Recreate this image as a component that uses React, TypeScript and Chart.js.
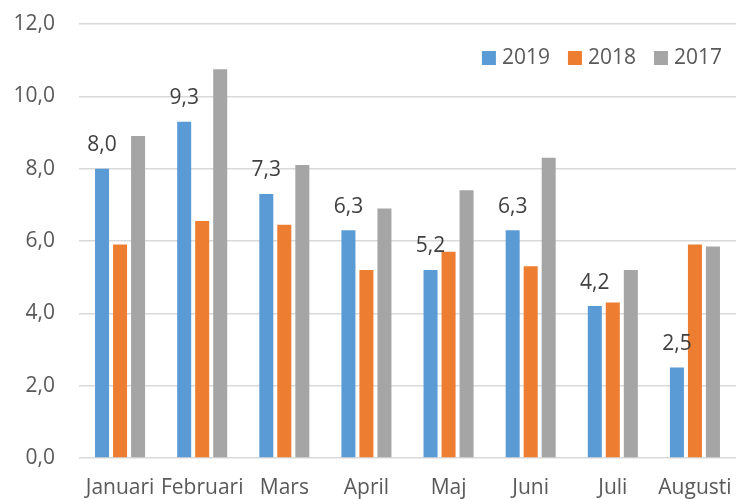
import React, { useEffect, useRef } from "react";
import { Chart, registerables } from "chart.js";

Chart.register(...registerables);

const categories = ["Januari", "Februari", "Mars", "April", "Maj", "Juni", "Juli", "Augusti"];
const series2019 = [8.0, 9.3, 7.3, 6.3, 5.2, 6.3, 4.2, 2.5];
const series2018 = [5.9, 6.55, 6.45, 5.2, 5.7, 5.3, 4.3, 5.9];
const series2017 = [8.9, 10.75, 8.1, 6.9, 7.4, 8.3, 5.2, 5.85];
const yTicks = [0, 2, 4, 6, 8, 10, 12];

const FONT = "'Open Sans', sans-serif";
const fmt = (v: number) => v.toFixed(1).replace(".", ",");

const dataLabelPlugin = {
  id: "dataLabels2019",
  afterDatasetsDraw(chart: any) {
    const ctx = chart.ctx;
    const meta = chart.getDatasetMeta(0);
    const ds = chart.data.datasets[0];
    ctx.save();
    ctx.font = `21px ${FONT}`;
    ctx.fillStyle = "#404040";
    ctx.textAlign = "center";
    ctx.textBaseline = "alphabetic";
    meta.data.forEach((bar: any, i: number) => {
      ctx.fillText(fmt(ds.data[i]), bar.x, bar.y - 17.5);
    });
    ctx.restore();
  },
};

const legendPlugin = {
  id: "customLegend",
  afterDraw(chart: any) {
    const ctx = chart.ctx;
    const area = chart.chartArea;
    const datasets = chart.data.datasets;
    ctx.save();
    ctx.font = `21px ${FONT}`;
    ctx.textBaseline = "middle";
    ctx.textAlign = "left";
    const box = 14;
    const boxGap = 6;
    const itemGap = 18;
    const cy = area.top + 34;
    let x = area.right - 14;
    const widths = datasets.map((d: any) => ctx.measureText(d.label).width);
    for (let i = datasets.length - 1; i >= 0; i--) {
      const w = widths[i];
      const textX = x - w;
      const boxX = textX - boxGap - box;
      ctx.fillStyle = datasets[i].backgroundColor;
      ctx.fillRect(boxX, cy - box / 2, box, box);
      ctx.fillStyle = "#595959";
      ctx.fillText(datasets[i].label, textX, cy);
      x = boxX - itemGap;
    }
    ctx.restore();
  },
};

export default function App() {
  const ref = useRef<HTMLCanvasElement>(null);
  useEffect(() => {
    if (!ref.current) return;
    const chart = new Chart(ref.current, {
      type: "bar",
      data: {
        labels: categories,
        datasets: [
          { label: "2019", data: series2019, backgroundColor: "#5B9BD5" },
          { label: "2018", data: series2018, backgroundColor: "#ED7D31" },
          { label: "2017", data: series2017, backgroundColor: "#A5A5A5" },
        ],
      },
      options: {
        responsive: false,
        animation: false,
        layout: { padding: { top: 24, right: 0, bottom: 0, left: 0 } },
        datasets: { bar: { categoryPercentage: 0.658, barPercentage: 0.778 } },
        plugins: {
          legend: { display: false },
          tooltip: { enabled: false },
        },
        scales: {
          x: {
            grid: { display: false, drawTicks: false },
            border: { display: false },
            ticks: {
              color: "#595959",
              font: { family: FONT, size: 21 },
              padding: 17,
              maxRotation: 0,
              autoSkip: false,
            },
            afterFit: (s: any) => {
              s.height = 41;
              s.paddingLeft = 0;
              s.paddingRight = 0;
            },
          },
          y: {
            min: 0,
            max: 12,
            afterBuildTicks: (s: any) => {
              s.ticks = yTicks.map((v) => ({ value: v }));
            },
            grid: { color: "#D9D9D9", lineWidth: 1.5, drawTicks: false },
            border: { display: false },
            ticks: {
              color: "#595959",
              font: { family: FONT, size: 21 },
              padding: 24,
              callback: (v: any) => fmt(Number(v)),
            },
            afterFit: (s: any) => {
              s.width = 79;
              s.paddingTop = 0;
              s.paddingBottom = 0;
            },
          },
        },
      },
      plugins: [dataLabelPlugin, legendPlugin],
    });
    return () => chart.destroy();
  }, []);
  return (
    <div style={{ position: "absolute", left: 0, top: 0, width: 736, height: 499, background: "#fff" }}>
      <canvas ref={ref} width={736} height={499} />
    </div>
  );
}
